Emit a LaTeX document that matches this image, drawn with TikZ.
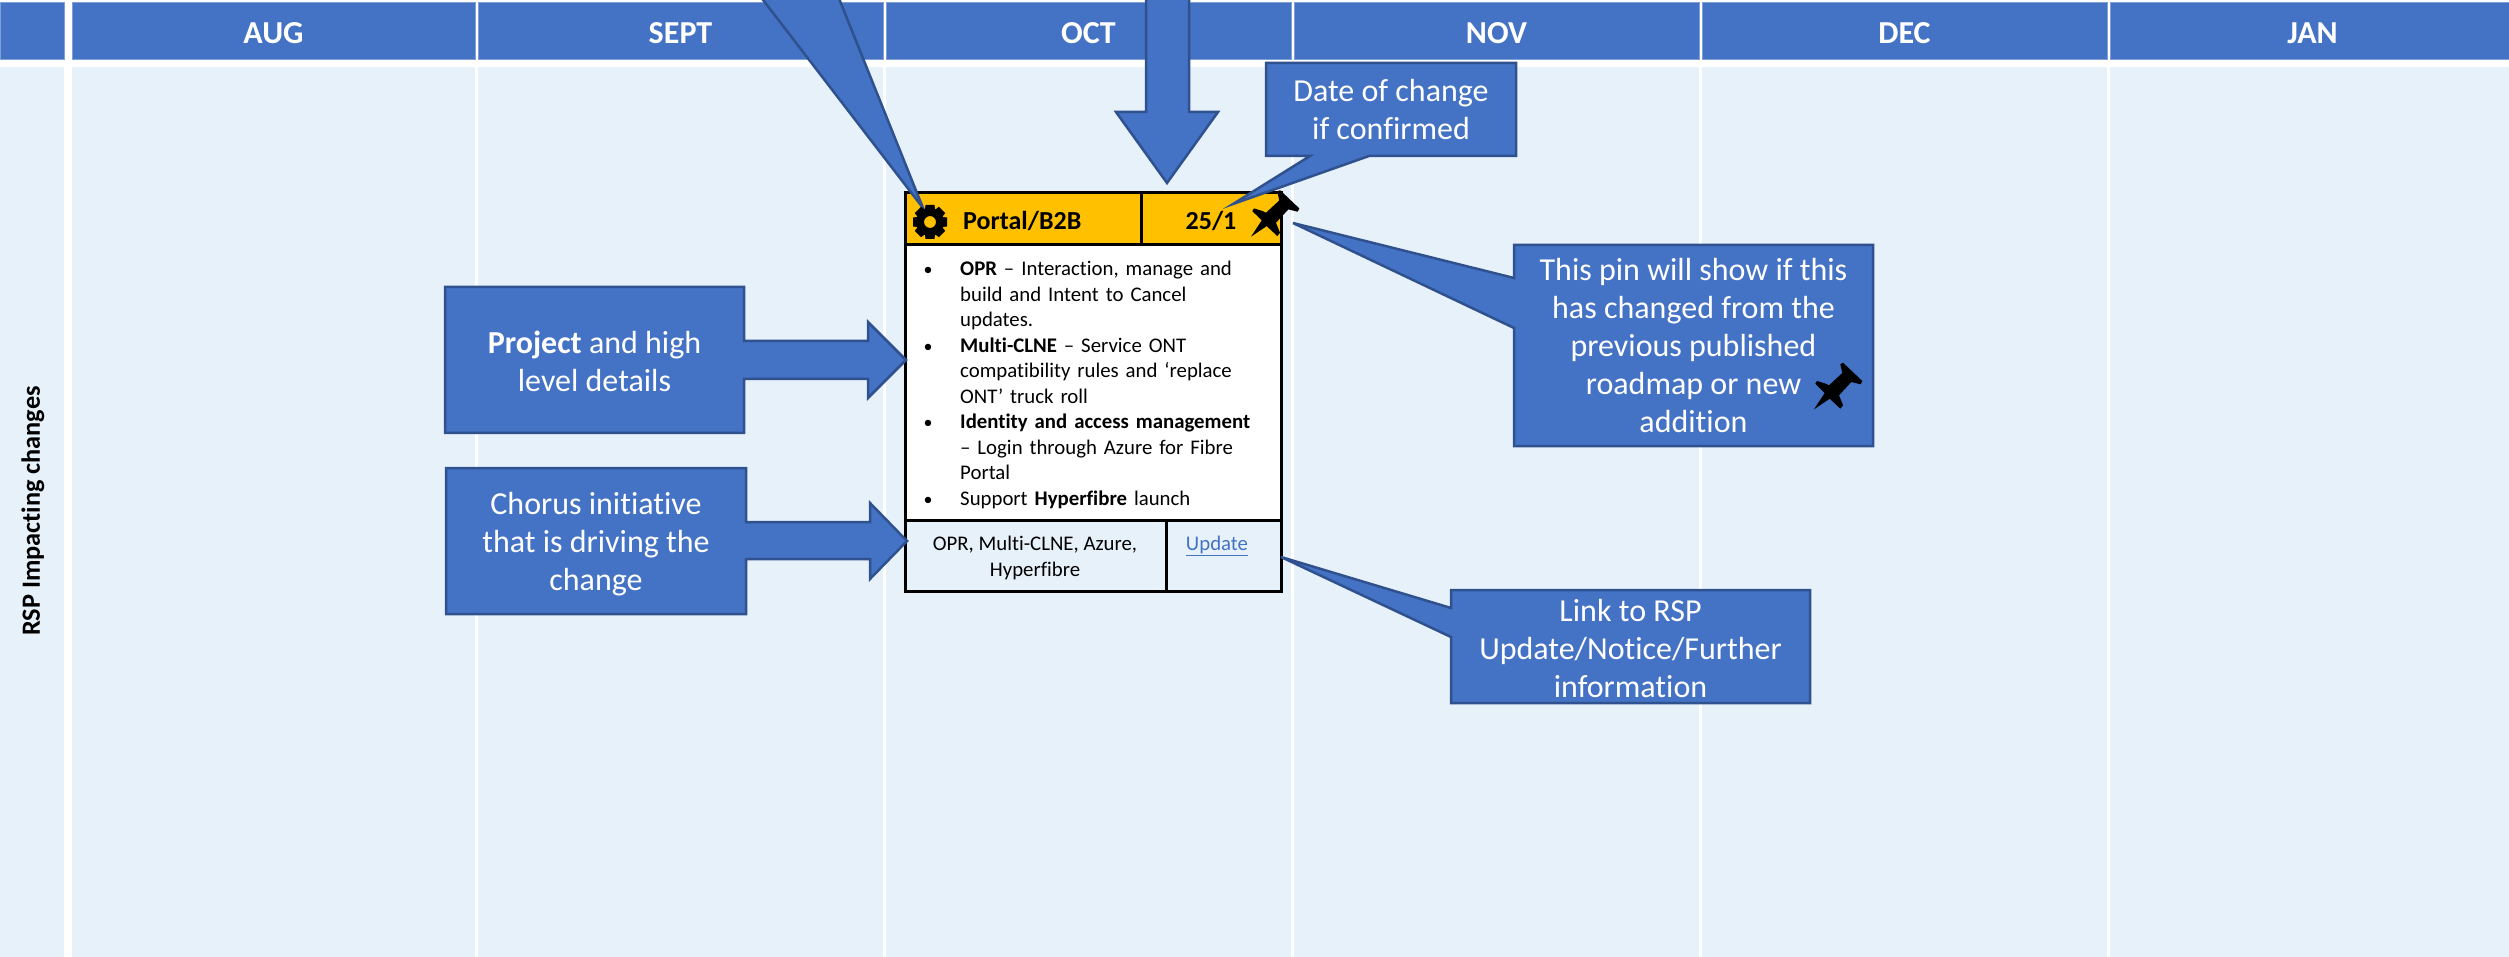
\documentclass[tikz,border=0pt]{standalone}
\usepackage{fontspec}
\setmainfont{Carlito}[Ligatures=CommonOff]
\usetikzlibrary{positioning, calc}
\definecolor{headblue}{HTML}{4472C4}
\definecolor{headline}{HTML}{7F9FD8}
\definecolor{paleblue}{HTML}{E7F1FA}
\definecolor{shapeline}{HTML}{2F528F}
\definecolor{cardgold}{HTML}{FFC000}
\pgfdeclarelayer{grid}
\pgfdeclarelayer{shape}
\pgfsetlayers{grid,shape,main}
\newcommand{\itm}{\leavevmode\llap{\makebox[36.5pt][l]{\fontsize{18}{18}\selectfont\textbullet}}}
\tikzset{
pushpin/.pic = {
\fill[black] (-24,23.3) -- (-13.3,7) -- (-22.7,-2.3) -- (-21,-5) -- (-12.3,-2.3) -- (-9,-0.7) -- (4.3,-13) -- (2.3,-21.7) -- (5,-23.3) -- (24.3,-5) -- (22.7,-1.7) -- (13.3,-4) -- (1,9.3) -- (5,19.3) -- (2.3,22.7) -- (-8.3,12.7) -- cycle;
}
}
\begin{document}
\begin{tikzpicture}[
				x = 1pt, y = -1pt,
				head/.style = {rectangle, fill = headblue, draw = headline, line width = 0.8pt, inner sep = 0pt, outer sep = 0pt, minimum height = 57pt, text = white, text height = 25pt, text depth = 0pt, font = \fontsize{32}{38}\selectfont\bfseries},
				column/.style = {rectangle, fill = paleblue, inner sep = 0pt, outer sep = 0pt, minimum height = 890pt},
				cell/.style = {rectangle, draw = black, line width = 3pt, inner sep = 0pt, outer sep = 0pt, anchor = north west},
				cardtext/.style = {inner sep = 0pt, font = \fontsize{20.8}{25.5}\selectfont},
				titletext/.style = {inner sep = 0pt, font = \fontsize{26}{30}\selectfont\bfseries},
				note/.style = {rectangle, inner sep = 0pt, outer sep = 0pt, text = white, align = center, font = \fontsize{32}{38}\selectfont},
				blockshape/.style = {fill = headblue, draw = shapeline, line width = 2.5pt, line join = miter},
			]
			\useasboundingbox (0,0) rectangle (2509,957);

			\begin{pgfonlayer}{grid}
				\node[head, minimum width = 64pt, anchor = north west](headL) at (0,2.5){};
				\node[column, minimum width = 64pt, anchor = north west](colL) at (0,67){};
				\foreach \month/\xa/\xb in {AUG/72/475, SEPT/478/883, OCT/886/1291, NOV/1294/1699, DEC/1702/2107, JAN/2110/2515}{
					\node[column, minimum width = {(\xb-\xa)*1pt}, anchor = north west](col\month) at (\xa,67){};
					\node[head, minimum width = {(\xb-\xa)*1pt}, anchor = north west](head\month) at (\xa,2.5){\month};
				}

				% the card
				\node[cell, fill = cardgold, minimum width = 236pt, minimum height = 52pt](cardTopL) at (905,193){};
				\node[cell, fill = cardgold, minimum width = 140pt, minimum height = 52pt](cardTopR) at (1141,193){};
				\node[cell, fill = white, minimum width = 376pt, minimum height = 275pt](cardBody) at (905,245){};
				\node[cell, fill = paleblue, minimum width = 261pt, minimum height = 71pt](cardFootL) at (905,520){};
				\node[cell, fill = paleblue, minimum width = 115pt, minimum height = 71pt](cardFootR) at (1166,520){};
			\end{pgfonlayer}

			\node[rotate = 90, inner sep = 0pt, font = \fontsize{26.3}{30}\selectfont\bfseries](rowLabel) at (33,511){RSP Impacting changes};

			\node[titletext, anchor = base west](cardTitle) at (963,230){Portal/B2B};
			\node[titletext, anchor = base](cardDate) at (1211,230){25/1};
			\node[cardtext, anchor = north west, align = left, text width = 315pt](cardList) at (960,261){%
				\itm\textbf{OPR} – Interaction, manage and\\
				build and Intent to Cancel\\
				updates.\\
				\itm\textbf{Multi-CLNE} – Service ONT\\
				compatibility rules and ‘replace\\
				ONT’ truck roll\\
				\itm\textbf{Identity and access management}\\
				– Login through Azure for Fibre\\
				Portal\\
				\itm Support \textbf{Hyperfibre} launch};
			\node[cardtext, align = center](cardTags) at (1035,558){OPR, Multi-CLNE, Azure,\\Hyperfibre};
			\node[cardtext, text = headblue](cardLink) at (1217,545.5){\underline{Update}};

			\node[note, minimum width = 299pt, minimum height = 146pt](project) at (594.5,360){\rule{0pt}{25pt}\textbf{Project} and high\\level details};
			\node[note, minimum width = 300pt, minimum height = 146pt](chorus) at (596,541){\rule{0pt}{28pt}Chorus initiative\\that is driving the\\change};
			\node[note, minimum width = 250pt, minimum height = 93pt](dateNote) at (1391,109.5){Date of change\\if confirmed};
			\node[note, minimum width = 359pt, minimum height = 201pt](pinNote) at (1693.5,345.5){This pin will show if this\\has changed from the\\previous published\\roadmap or new\\addition};
			\node[note, minimum width = 359pt, minimum height = 113pt](linkNote) at (1630.5,646.5){\rule{0pt}{26pt}Link to RSP\\Update/Notice/Further\\information};

			\coordinate(gearTip) at (923,208);
			\coordinate(downTip) at (1167,183);
			\coordinate(projectTip) at (906,360);
			\coordinate(chorusTip) at (907,541);
			\coordinate(dateTip) at (1233,204);
			\coordinate(pinTip) at (1293,223);
			\coordinate(linkTip) at (1281,557);

			\begin{pgfonlayer}{shape}
				\draw[blockshape](760,-4)--(gearTip)--(838,-4)--cycle;
				\draw[blockshape](1146,-4)--(1146,112)--(1116,112)--(downTip)--(1218,112)--(1189,112)--(1189,-4)--cycle;
				\draw[blockshape](project.north west)--(project.north east)--(744,341)--(868,341)--(868,322)--(projectTip)--(868,398)--(868,379)--(744,379)--(project.south east)--(project.south west)--cycle;
				\draw[blockshape](chorus.north west)--(chorus.north east)--(746,522)--(870,522)--(870,503)--(chorusTip)--(870,579)--(870,559)--(746,559)--(chorus.south east)--(chorus.south west)--cycle;
				\draw[blockshape](dateNote.north west)--(dateNote.north east)--(dateNote.south east)--(1369,156)--(dateTip)--(1310,156)--(dateNote.south west)--cycle;
				\draw[blockshape](pinNote.north west)--(pinNote.north east)--(pinNote.south east)--(pinNote.south west)--(1514,328)--(pinTip)--(1514,278)--cycle;
				\draw[blockshape](linkNote.north west)--(linkNote.north east)--(linkNote.south east)--(linkNote.south west)--(1451,637)--(linkTip)--(1451,608)--cycle;
			\end{pgfonlayer}

			% gear on the card title
			\fill[black, even odd rule] (930,222) circle (6) (930,222) circle (14);
			\foreach \ang in {0,45,...,315}{
				\fill[black, rotate around = {\ang:(930,222)}] (925.5,205) -- (934.5,205) -- (935.5,214) -- (924.5,214) -- cycle;
			}

			\pic at (1275,213.4) {pushpin};
			\pic at (1838,386) {pushpin};

		\end{tikzpicture}
\end{document}
